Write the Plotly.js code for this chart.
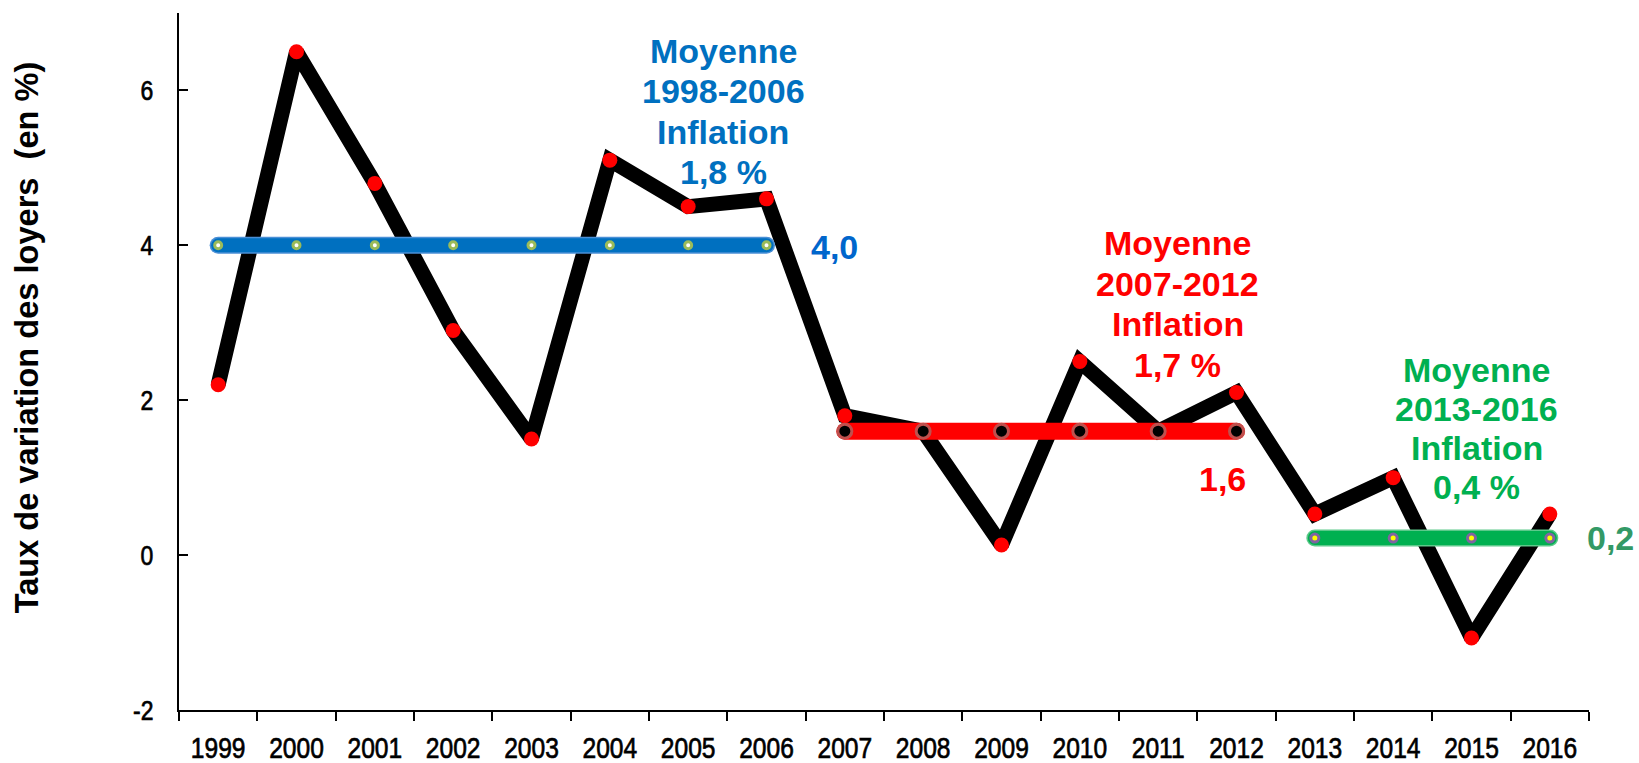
<!DOCTYPE html>
<html>
<head>
<meta charset="utf-8">
<script src="https://cdn.plot.ly/plotly-3.0.1.min.js"></script>
<style>
  html, body { margin: 0; padding: 0; background: #fff; }
  #chart { width: 1639px; height: 763px; }
  .avg .js-line { stroke-linecap: round; }
  .xtick text, .ytick text { stroke: #000; stroke-width: 0.7px; }
</style>
</head>
<body>
<div id="chart"></div>
<script>
// ---- Data ----
const years = ['1999','2000','2001','2002','2003','2004','2005','2006','2007','2008',
               '2009','2010','2011','2012','2013','2014','2015','2016'];
const loyers = [2.2, 6.5, 4.8, 2.9, 1.5, 5.1, 4.5, 4.6, 1.8, 1.6,
                0.13, 2.5, 1.6, 2.1, 0.53, 1.0, -1.07, 0.53];

const years1 = ['1999','2000','2001','2002','2003','2004','2005','2006'];
const avg1 = [4.0, 4.0, 4.0, 4.0, 4.0, 4.0, 4.0, 4.0];
const years2 = ['2007','2008','2009','2010','2011','2012'];
const avg2 = [1.6, 1.6, 1.6, 1.6, 1.6, 1.6];
const years3 = ['2013','2014','2015','2016'];
const avg3 = [0.22, 0.22, 0.22, 0.22];

const yTickVals = [-2, 0, 2, 4, 6];
const yTickText = ['-2', '0', '2', '4', '6'];

const label1 = ['Moyenne', '1998-2006', 'Inflation', '1,8 %'];
const label2 = ['Moyenne', '2007-2012', 'Inflation', '1,7 %'];
const label3 = ['Moyenne', '2013-2016', 'Inflation', '0,4 %'];
const value1 = '4,0';
const value2 = '1,6';
const value3 = '0,2';
const yTitle = 'Taux de variation des loyers&nbsp;&nbsp;(en %)';

// ---- Styles ----
const BLUE = '#0070C0', RED = '#FF0000', GREEN = '#00B050';
const TXTFONT = 'Liberation Sans, Arial, sans-serif';

const traces = [
  { x: years, y: loyers, type: 'scatter', mode: 'lines+markers',
    line: { color: '#000000', width: 15 },
    marker: { color: RED, size: 15 }, hoverinfo: 'x+y' },
  // blue average (outline + band)
  { x: years1, y: avg1, type: 'scatter', mode: 'lines',
    line: { color: '#4A8FD6', width: 17 } },
  { x: years1, y: avg1, type: 'scatter', mode: 'lines+markers',
    line: { color: BLUE, width: 14 },
    marker: { color: '#FFFFFF', size: 7, line: { color: '#9BBB59', width: 3 } } },
  // red average
  { x: years2, y: avg2, type: 'scatter', mode: 'lines+markers',
    line: { color: RED, width: 17 },
    marker: { color: '#000000', size: 14, line: { color: '#C0504D', width: 3 } } },
  // green average (outline + band)
  { x: years3, y: avg3, type: 'scatter', mode: 'lines',
    line: { color: '#5CC98A', width: 17 } },
  { x: years3, y: avg3, type: 'scatter', mode: 'lines+markers',
    line: { color: GREEN, width: 14 },
    marker: { color: '#FFFF00', size: 8, line: { color: '#8064A2', width: 3 } } }
];

function boldFont(color, size) {
  return { family: TXTFONT, size: size, color: color, weight: 'bold' };
}

// y value of a pixel offset inside the plot (used only to place text blocks)
const Y0 = -2, Y1 = 7, TOP = 13, PLOTH = 697, LEFT = 179, PLOTW = 1410;
function yAtPx(px) { return Y1 - (px - TOP) * (Y1 - Y0) / PLOTH; }

function block(lines, xIdx, firstPx, step, color) {
  return lines.map(function (t, i) {
    return { x: xIdx, y: yAtPx(firstPx + i * step), xref: 'x', yref: 'y', text: t,
      showarrow: false, font: boldFont(color, 34), xanchor: 'center', yanchor: 'middle' };
  });
}

const annotations = []
  .concat(block(label1, 6.445, 51, 40.3, BLUE))
  .concat(block(label2, 12.25, 243, 40.7, RED))
  .concat(block(label3, 16.07, 370, 39, GREEN))
  .concat([
    { x: 7.87, y: yAtPx(247), xref: 'x', yref: 'y', text: value1, showarrow: false,
      font: boldFont('#0066CC', 34), xanchor: 'center', yanchor: 'middle' },
    { x: 12.82, y: yAtPx(479), xref: 'x', yref: 'y', text: value2, showarrow: false,
      font: boldFont(RED, 34), xanchor: 'center', yanchor: 'middle' },
    { x: (1610 - LEFT) / PLOTW, y: yAtPx(538), xref: 'paper', yref: 'y', text: value3, showarrow: false,
      font: boldFont('#339966', 34), xanchor: 'center', yanchor: 'middle' },
    { x: (26.5 - LEFT) / PLOTW, y: 0.534, xref: 'paper', yref: 'paper', text: yTitle, showarrow: false,
      textangle: -90, font: boldFont('#000', 32.6), xanchor: 'center', yanchor: 'middle' }
  ]);

const layout = {
  width: 1639, height: 763,
  margin: { l: LEFT, r: 50, t: TOP, b: 53, pad: 0 },
  paper_bgcolor: '#ffffff', plot_bgcolor: '#ffffff',
  showlegend: false,
  xaxis: {
    type: 'category', range: [-0.5, 17.5],
    showline: true, linecolor: '#000', linewidth: 2,
    showgrid: false, zeroline: false,
    ticks: 'outside', tickson: 'boundaries', ticklen: 9, tickwidth: 2, tickcolor: '#000',
    tickfont: { family: TXTFONT, size: 30, color: '#000' },
    ticklabelstandoff: 10
  },
  yaxis: {
    range: [Y0, Y1],
    showline: true, linecolor: '#000', linewidth: 2,
    showgrid: false, zeroline: false,
    ticks: 'inside', ticklen: 9, tickwidth: 2, tickcolor: '#000',
    tickvals: yTickVals, ticktext: yTickText,
    tickfont: { family: TXTFONT, size: 28, color: '#000' },
    ticklabelstandoff: 18
  },
  annotations: annotations
};

function squeeze(selector, factor) {
  document.querySelectorAll(selector).forEach(function (t) {
    const w = t.getComputedTextLength();
    if (w > 0) {
      t.setAttribute('textLength', (w * factor).toFixed(1));
      t.setAttribute('lengthAdjust', 'spacingAndGlyphs');
    }
  });
}

Plotly.newPlot('chart', traces, layout, { displayModeBar: false, staticPlot: true }).then(function () {
  const groups = document.querySelectorAll('.scatterlayer .trace');
  groups.forEach(function (g, i) { if (i > 0) g.classList.add('avg'); });
  // the reference tick labels use a narrow typeface
  squeeze('.xtick text', 0.82);
  squeeze('.ytick text', 0.82);
});
</script>
</body>
</html>
